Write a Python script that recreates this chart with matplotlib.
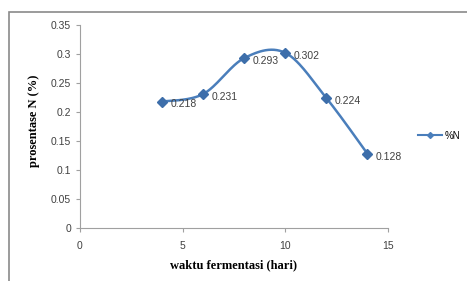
import numpy as np
import matplotlib.pyplot as plt
from matplotlib.patches import Rectangle

# data
hari = [4, 6, 8, 10, 12, 14]
persen_n = [0.218, 0.231, 0.293, 0.302, 0.224, 0.128]
label_n = ['0.218', '0.231', '0.293', '0.302', '0.224', '0.128']
y_ticks = [0, 0.05, 0.1, 0.15, 0.2, 0.25, 0.3, 0.35]
y_ticklabels = ['0', '0.05', '0.1', '0.15', '0.2', '0.25', '0.3', '0.35']
x_ticks = [0, 5, 10, 15]


def smooth(xs, ys, n=30):
    # garis halus seperti Excel (bezier catmull-rom)
    px = np.array(xs, float)
    py = np.array(ys, float)
    ox, oy = [], []
    m = len(px)
    for i in range(m - 1):
        i0 = max(i - 1, 0)
        i3 = min(i + 2, m - 1)
        c1x = px[i] + (px[i + 1] - px[i0]) / 6
        c1y = py[i] + (py[i + 1] - py[i0]) / 6
        c2x = px[i + 1] - (px[i3] - px[i]) / 6
        c2y = py[i + 1] - (py[i3] - py[i]) / 6
        t = np.linspace(0, 1, n)
        bx = (1-t)**3*px[i] + 3*(1-t)**2*t*c1x + 3*(1-t)*t**2*c2x + t**3*px[i+1]
        by = (1-t)**3*py[i] + 3*(1-t)**2*t*c1y + 3*(1-t)*t**2*c2y + t**3*py[i+1]
        ox.extend(bx)
        oy.extend(by)
    return ox, oy


fig = plt.figure(figsize=(4.67, 2.81), dpi=100)
ax = fig.add_axes([0.1713, 0.1886, 0.6595, 0.7224])

sx, sy = smooth(hari, persen_n)
ax.plot(sx, sy, color='#4a7ebb', lw=1.8)
ax.plot(hari, persen_n, linestyle='none', marker='D', ms=5, color='#3d6eaa')
for xv, yv, lab in zip(hari, persen_n, label_n):
    ax.annotate(lab, (xv, yv), xytext=(6, -2), textcoords='offset points',
                fontsize=7.5, color='#404040', va='center', ha='left',
                family='Liberation Sans')

ax.set_xlim(0, 15)
ax.set_ylim(0, 0.35)
ax.set_xticks(x_ticks)
ax.set_yticks(y_ticks)
ax.set_yticklabels(y_ticklabels)
for s in ['top', 'right']:
    ax.spines[s].set_visible(False)
for s in ['left', 'bottom']:
    ax.spines[s].set_color('#a0a0a0')
ax.tick_params(colors='#a0a0a0', labelcolor='#404040', labelsize=7.5, length=3)
ax.tick_params(axis='x', pad=6)
for t in ax.get_xticklabels() + ax.get_yticklabels():
    t.set_family('Liberation Sans')

ax.set_xlabel('waktu fermentasi (hari)', family='Liberation Serif',
              fontweight='bold', fontsize=9, labelpad=6)
ax.set_ylabel('prosentase N (%)', family='Liberation Serif',
              fontweight='bold', fontsize=9)
ax.yaxis.set_label_coords(-0.13, 0.53)

# legenda
ax.legend([plt.Line2D([], [], color='#4a7ebb', marker='D', ms=3, lw=1.5)], ['%N'],
          loc='center left', bbox_to_anchor=(1.07, 0.455), frameon=False,
          handlelength=2.4, handletextpad=0.3, prop={'family': 'Liberation Sans', 'size': 7})

fig.patches.append(Rectangle((9 / 467, -0.05), 1.0, 1 - 12 / 281 + 0.05,
                             transform=fig.transFigure, fill=False,
                             edgecolor='#8a8a8a', lw=1.2))

fig.savefig('out.png', dpi=100)
